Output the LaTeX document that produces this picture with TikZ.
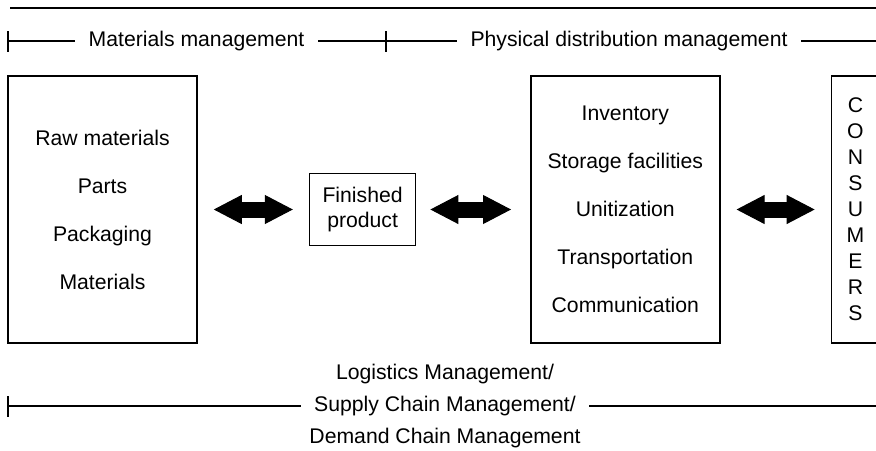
\documentclass[tikz,border=0pt]{standalone}
\usepackage{fontspec}
\setmainfont{Liberation Sans}
\usetikzlibrary{positioning,arrows.meta}
\tikzstyle{twoway} = [line width=8pt, {Triangle[length=14pt,width=14.5pt,line width=0.5pt]}-{Triangle[length=14pt,width=14.5pt,line width=0.5pt]}, shorten <=8pt, shorten >=8pt]

\begin{document}
\begin{tikzpicture}[
	x=0.5pt, y=-0.5pt,
	line width=0.8pt,
	node distance=55.5pt,
	block/.style={
		rectangle,
		draw=black,
		line width=0.8pt,
		align=center,
		inner sep=0pt,
		font=\fontsize{10.6}{24}\selectfont,
	},
	tallblock/.style={
		block,
		minimum width=94.5pt,
		minimum height=133.5pt,
	},
	heading/.style={
		align=center,
		inner xsep=6.5pt,
		inner ysep=0pt,
		font=\fontsize{10.6}{16}\selectfont,
	},
	tick/.style={
		{Bar[width=10.5pt]}-,
	}
]
	\useasboundingbox (0,0) rectangle (876,450);
	\clip (0,0) rectangle (876,450);

	% boxes
	\node (raw) [tallblock] at (102.5,209.5)
		{Raw materials\\Parts\\Packaging\\Materials};
	\node (fin) [block,minimum width=53pt,minimum height=36pt,
		font=\fontsize{10.6}{12.5}\selectfont,right=of raw]
		{Finished\\product};
	\node (phys) [tallblock,right=56.8pt of fin]
		{Inventory\\Storage facilities\\Unitization\\Transportation\\Communication};
	\node (cons) [block,minimum width=24pt,minimum height=133.5pt,
		font=\fontsize{10.6}{13}\selectfont,right=55pt of phys]
		{C\\O\\N\\S\\U\\M\\E\\R\\S};

	% headings
	\node (mm) [heading] at (196.5,41) {Materials management};
	\node (pdm) [heading] at (629,41) {Physical distribution management};
	\node (lscm) [heading,inner xsep=4pt] at (445,406)
		{Logistics Management/\\Supply Chain Management/\\Demand Chain Management};

	\coordinate (topL) at (10,8);
	\coordinate (topR) at (876,8);
	\coordinate (mmL) at (7,41);
	\coordinate (split) at (385,41);
	\coordinate (pdmR) at (876,41);
	\coordinate (botL) at (7,406);
	\coordinate (botR) at (876,406);

	\draw (topL) -- (topR);
	\draw [tick] (mmL) -- (mm.west);
	\draw (mm.east) -- (split);
	\draw [tick] (split) -- (pdm.west);
	\draw (pdm.east) -- (pdmR);
	\draw [tick] (botL) -- (lscm.west);
	\draw (lscm.east) -- (botR);

	% two-way arrows
	\draw [twoway] (raw) -- (fin);
	\draw [twoway,shorten <=7pt,shorten >=9.5pt] (fin) -- (phys);
	\draw [twoway] (phys) -- (cons);

\end{tikzpicture}
\end{document}
